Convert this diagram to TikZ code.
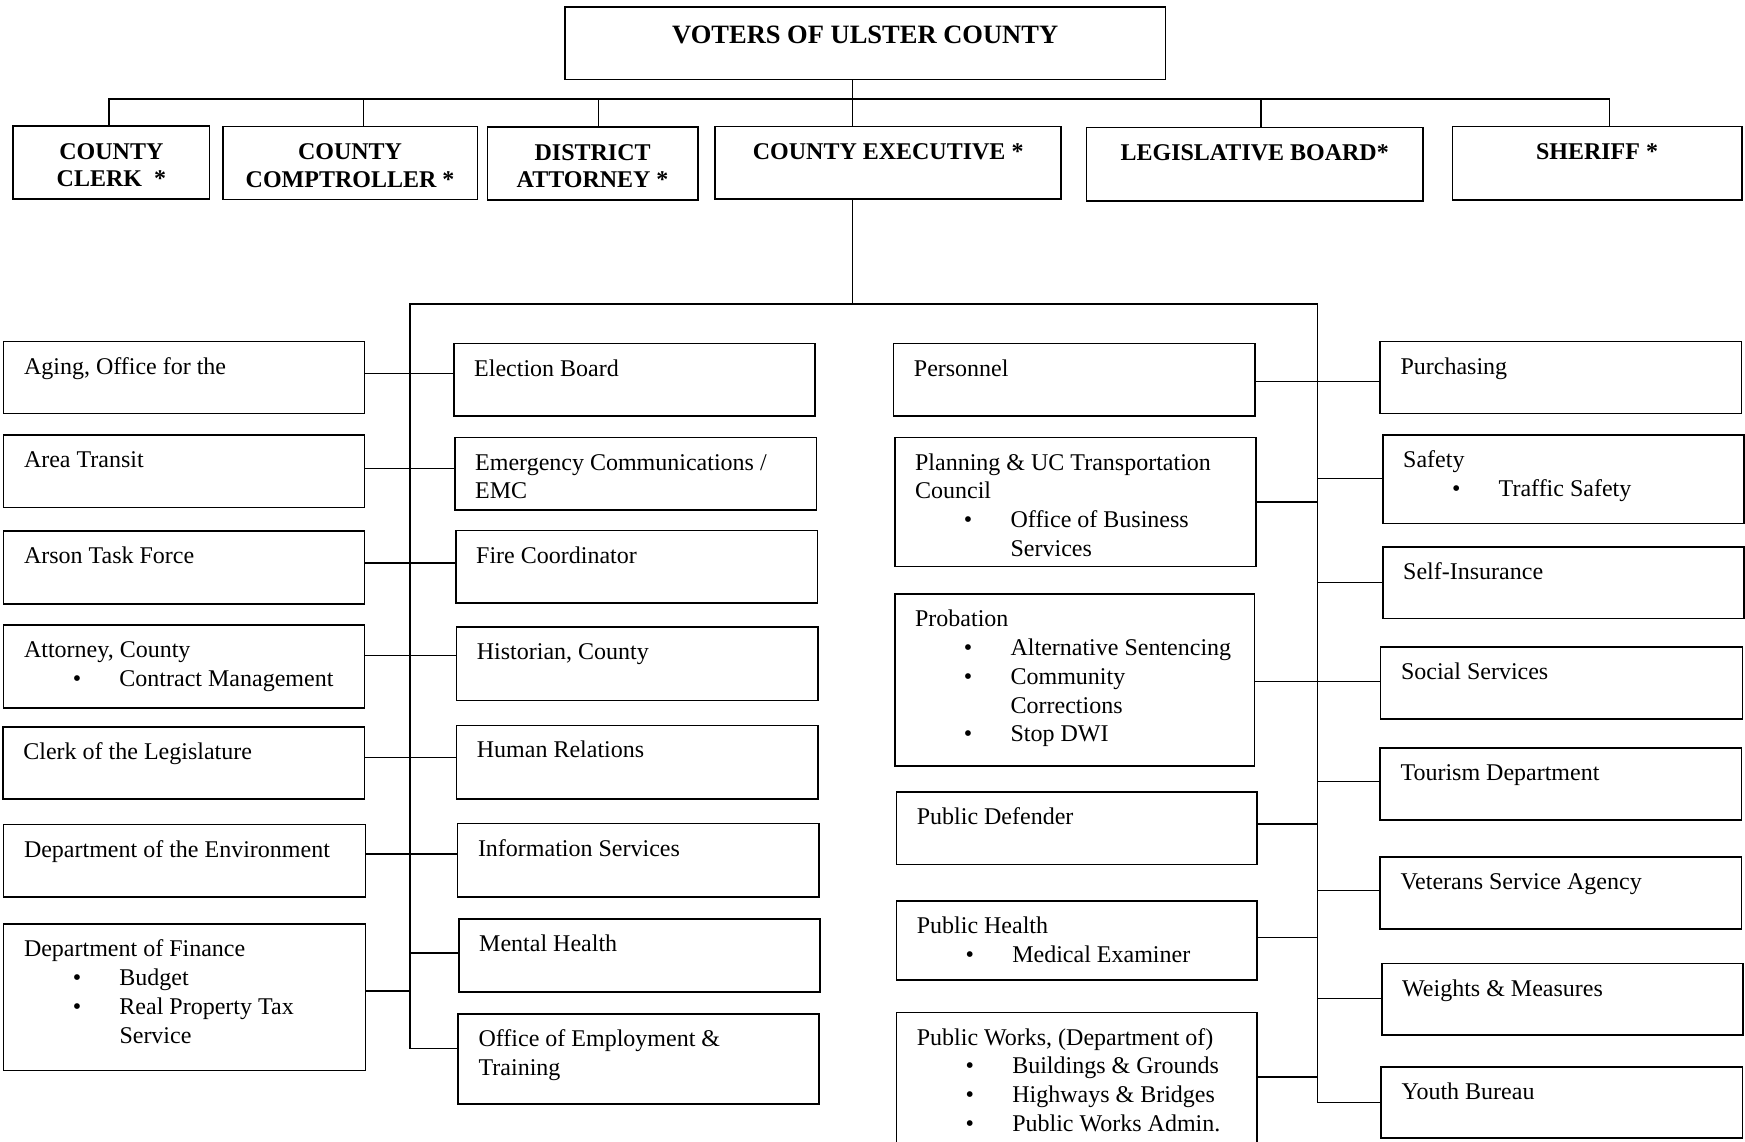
\documentclass[tikz,border=0pt]{standalone}
\usepackage{fontspec}
\setmainfont{Liberation Serif}
\usetikzlibrary{calc}
\newcommand\orgbul{\hspace*{53pt}\makebox[0pt]{\textbullet}\hspace*{42.5pt}}
\newcommand\orgind{\hspace*{95.5pt}}
\tikzset{
  box/.style={draw, line width=1.6pt, inner sep=0pt, anchor=north west},
  txt/.style={anchor=base west, inner sep=0pt},
  ttxt/.style={anchor=base, inner sep=0pt},
  conn/.style={line width=1.3pt, line join=miter},
}
% unit box with left-aligned text
\newcommand\obox[6]{%
  \node[box, minimum width={#4-#2}, minimum height={#5-#3}] (#1) at (#2,#3) {};
  \node[txt] (#1t) at ($(#1.north west)+(21,33.3)$)
    {\parbox[t]{340pt}{\fontsize{24}{28.9}\selectfont\raggedright #6}};}
% top row box with centered bold text
\newcommand\tbox[6]{%
  \node[box, minimum width={#4-#2}, minimum height={#5-#3}] (#1) at (#2,#3) {};
  \node[ttxt] (#1t) at ($(#1.north)+(0,34)$)
    {\parbox[t]{300pt}{\centering\fontsize{24}{27.4}\selectfont\bfseries #6}};}
\begin{document}
\begin{tikzpicture}[x=1pt,y=-1pt]
\useasboundingbox (0,0) rectangle (1745,1141);
\clip (0,0) rectangle (1745,1141);

% top
\node[box, minimum width={1164.8-564}, minimum height={78.7-6}] (voters) at (564,6) {};
\node[ttxt] (voterst) at ($(voters.north)+(0,37.3)$)
  {\fontsize{26.5}{30}\selectfont\bfseries VOTERS OF ULSTER COUNTY};

\tbox{clerk}{12.3}{125}{208.8}{198}{COUNTY\\CLERK\ \ *}
\tbox{compt}{222}{125.7}{476.5}{198.7}{COUNTY\\COMPTROLLER *}
\tbox{da}{486.6}{126.3}{697}{199}{DISTRICT\\ATTORNEY *}
\tbox{exec}{714.4}{125.7}{1060.4}{198.3}{COUNTY EXECUTIVE *}
\tbox{leg}{1085.8}{126.7}{1422}{200}{LEGISLATIVE BOARD*}
\tbox{sher}{1451.5}{125.7}{1741}{199}{SHERIFF *}

% column 1
\obox{aging}{2.8}{340.7}{363.7}{412.7}{Aging, Office for the}
\obox{area}{2.8}{434.3}{363.7}{506.7}{Area Transit}
\obox{arson}{2.8}{530}{363.7}{603}{Arson Task Force}
\obox{atty}{2.8}{624}{363.7}{707}{Attorney, County\\\orgbul Contract Management}
\obox{clerkleg}{2.2}{726}{363.7}{798}{Clerk of the Legislature}
\obox{env}{2.8}{823.7}{364.8}{896}{Department of the Environment}
\obox{fin}{2.8}{923.3}{364.8}{1069.7}{Department of Finance\\\orgbul Budget\\\orgbul Real Property Tax\\\orgind Service}

% column 2
\obox{elec}{453}{342.7}{814.4}{415}{Election Board}
\obox{emerg}{454}{436.7}{815.5}{509}{Emergency Communications /\\EMC}
\obox{fire}{455}{529.7}{816.6}{602}{Fire Coordinator}
\obox{hist}{455.7}{626}{817}{699.7}{Historian, County}
\obox{human}{455.7}{724.5}{817}{798}{Human Relations}
\obox{info}{456.8}{822.7}{818.3}{896}{Information Services}
\obox{mental}{458}{918}{819.4}{991}{Mental Health}
\obox{oet}{457.4}{1013}{818.3}{1103}{Office of Employment \&\\Training}

% column 3
\obox{pers}{892.7}{342.7}{1254}{415}{Personnel}
\obox{plan}{893.9}{436.7}{1255}{565.7}{Planning \& UC Transportation\\Council\\\orgbul Office of Business\\\orgind Services}
\obox{prob}{893.9}{593}{1253.6}{765}{Probation\\\orgbul Alternative Sentencing\\\orgbul Community\\\orgind Corrections\\\orgbul Stop DWI}
\obox{pubdef}{895.6}{791}{1256.2}{863.7}{Public Defender}
\obox{pubh}{895.6}{900}{1256.2}{979}{Public Health\\\orgbul Medical Examiner}
\obox{pubw}{895.6}{1011.7}{1256.2}{1165}{Public Works, (Department of)\\\orgbul Buildings \& Grounds\\\orgbul Highways \& Bridges\\\orgbul Public Works Admin.}

% column 4
\obox{purch}{1379.3}{340.7}{1740.5}{412.7}{Purchasing}
\obox{safety}{1382}{434}{1743.3}{522.7}{Safety\\\orgbul Traffic Safety}
\obox{selfins}{1382}{546}{1743.3}{617.7}{Self-Insurance}
\obox{social}{1379.8}{646}{1741.6}{718.3}{Social Services}
\obox{tour}{1379.3}{747.3}{1740.5}{819.3}{Tourism Department}
\obox{vet}{1379.3}{856}{1740.5}{928}{Veterans Service Agency}
\obox{weights}{1381}{962.7}{1742}{1034.3}{Weights \& Measures}
\obox{youth}{1380.4}{1066}{1741.6}{1137}{Youth Bureau}

% top bus
\coordinate (d1) at (109,99);
\coordinate (d2) at (363.7,99);
\coordinate (d3) at (598.8,99);
\coordinate (ed) at (852.5,99);
\coordinate (d5) at (1261,99);
\coordinate (d6) at (1609.5,99);
\draw[conn] (d1 |- clerk.north) -- (d1) -- (d6) -- (d6 |- sher.north);
\draw[conn] (d2) -- (d2 |- compt.north);
\draw[conn] (d3) -- (d3 |- da.north);
\draw[conn] (ed |- voters.south) -- (ed |- exec.north);
\draw[conn] (d5) -- (d5 |- leg.north);

% lower bus and spines
\coordinate (ls) at (410,304);
\coordinate (rs) at (1317.7,304);
\coordinate (c1) at (0,373.3);
\coordinate (c2) at (0,468.3);
\coordinate (c3) at (0,563);
\coordinate (c4) at (0,655.7);
\coordinate (c5) at (0,757.7);
\coordinate (c6) at (0,854);
\coordinate (c7) at (0,953);
\coordinate (c8) at (0,991);
\coordinate (c9) at (0,1048.7);
\coordinate (r1) at (0,381.3);
\coordinate (r2) at (0,478.3);
\coordinate (r3) at (0,502);
\coordinate (r4) at (0,582.7);
\coordinate (r5) at (0,681.7);
\coordinate (r6) at (0,781.3);
\coordinate (r7) at (0,824);
\coordinate (r8) at (0,890.7);
\coordinate (r9) at (0,937.3);
\coordinate (r10) at (0,998.3);
\coordinate (r11) at (0,1077);
\coordinate (r12) at (0,1102.7);

\draw[conn] (ed |- exec.south) -- (ed |- ls);
\draw[conn] (ls |- c9) -- (ls) -- (rs) -- (rs |- r12);

% left connectors
\draw[conn] (aging.east |- c1) -- (elec.west |- c1);
\draw[conn] (area.east |- c2) -- (emerg.west |- c2);
\draw[conn] (arson.east |- c3) -- (fire.west |- c3);
\draw[conn] (atty.east |- c4) -- (hist.west |- c4);
\draw[conn] (clerkleg.east |- c5) -- (human.west |- c5);
\draw[conn] (env.east |- c6) -- (info.west |- c6);
\draw[conn] (ls |- c7) -- (mental.west |- c7);
\draw[conn] (fin.east |- c8) -- (ls |- c8);
\draw[conn] (ls |- c9) -- (oet.west |- c9);

% right connectors
\draw[conn] (pers.east |- r1) -- (purch.west |- r1);
\draw[conn] (rs |- r2) -- (safety.west |- r2);
\draw[conn] (plan.east |- r3) -- (rs |- r3);
\draw[conn] (rs |- r4) -- (selfins.west |- r4);
\draw[conn] (prob.east |- r5) -- (social.west |- r5);
\draw[conn] (rs |- r6) -- (tour.west |- r6);
\draw[conn] (pubdef.east |- r7) -- (rs |- r7);
\draw[conn] (rs |- r8) -- (vet.west |- r8);
\draw[conn] (pubh.east |- r9) -- (rs |- r9);
\draw[conn] (rs |- r10) -- (weights.west |- r10);
\draw[conn] (pubw.east |- r11) -- (rs |- r11);
\draw[conn] (rs |- r12) -- (youth.west |- r12);
\end{tikzpicture}
\end{document}
